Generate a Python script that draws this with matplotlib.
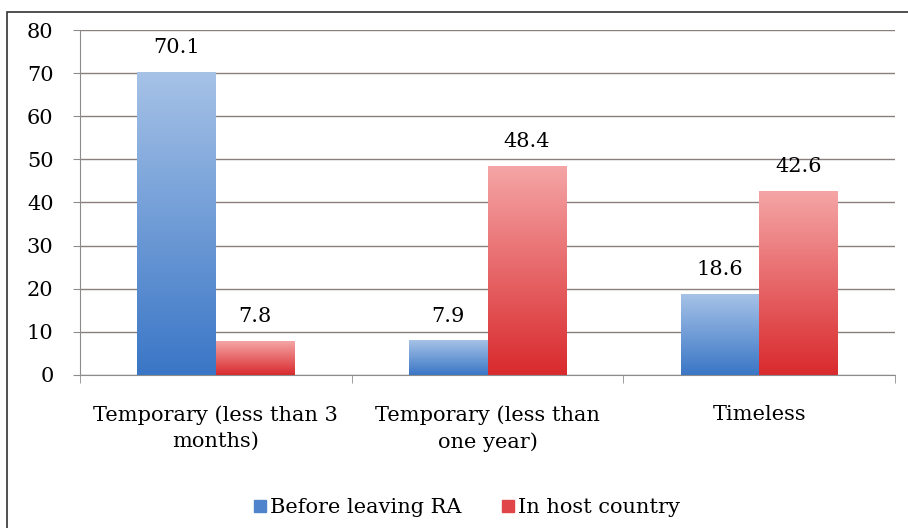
import matplotlib.pyplot as plt
import numpy as np
from matplotlib.colors import LinearSegmentedColormap
from matplotlib.patches import Rectangle
from matplotlib.lines import Line2D

plt.rcParams['font.family'] = ['DejaVu Serif']

# data
categories = ['Temporary (less than 3\nmonths)', 'Temporary (less than\none year)', 'Timeless']
series_names = ['Before leaving RA', 'In host country']
before_ra = [70.1, 7.9, 18.6]
host_country = [7.8, 48.4, 42.6]

fig = plt.figure(figsize=(9.08, 5.28), dpi=100)
ax = fig.add_axes([0.088, 0.290, 0.898, 0.653])

# outer frame of the chart (cropped at right/bottom)
fig.patches.append(Rectangle((7 / 908, -0.1), 1.2, 1.1 - 12 / 528,
                             transform=fig.transFigure, fill=False,
                             edgecolor='#333333', linewidth=1.2))

blue_cmap = LinearSegmentedColormap.from_list('b', ['#3a76c6', '#a6c2e7'])
red_cmap = LinearSegmentedColormap.from_list('r', ['#d92a2d', '#f5a5a6'])
grad = np.linspace(0, 1, 256).reshape(-1, 1)

x = np.arange(len(categories))
width = 0.29

bars1 = ax.bar(x - width / 2, before_ra, width, color='none')
bars2 = ax.bar(x + width / 2, host_country, width, color='none')

# gradient fill like the office chart
for bars, cmap in [(bars1, blue_cmap), (bars2, red_cmap)]:
    for b in bars:
        x0 = b.get_x()
        ax.imshow(grad, cmap=cmap, origin='lower', aspect='auto',
                  extent=(x0, x0 + b.get_width(), 0, b.get_height()), zorder=2)

# labels above bars
for bars, vals in [(bars1, before_ra), (bars2, host_country)]:
    for b, v in zip(bars, vals):
        ax.annotate(f'{v:.1f}', xy=(b.get_x() + b.get_width() / 2, v),
                    xytext=(0, 11), textcoords='offset points',
                    ha='center', va='bottom', fontsize=15)

ax.set_xlim(-0.5, 2.5)
ax.set_ylim(0, 80)
ax.set_yticks(range(0, 81, 10))
ax.tick_params(axis='y', labelsize=15, length=5, color='#8c8c8c', pad=14)
ax.set_xticks(x)
ax.set_xticklabels(categories, fontsize=15, linespacing=1.45)
ax.tick_params(axis='x', which='major', length=0, pad=22)
ax.set_xticks([-0.5, 0.5, 1.5, 2.5], minor=True)
ax.tick_params(axis='x', which='minor', length=6, color='#8c8c8c')

ax.grid(axis='y', color='#8a7e7e', linewidth=1.0, zorder=0)
ax.set_axisbelow(True)
for s in ['top', 'right']:
    ax.spines[s].set_visible(False)
for s in ['left', 'bottom']:
    ax.spines[s].set_color('#8c8c8c')

# legend with square proxies
handles = [Line2D([], [], marker='s', linestyle='none', markersize=8, color='#4f83cc'),
           Line2D([], [], marker='s', linestyle='none', markersize=8, color='#e0454a')]
fig.legend(handles, series_names, loc='center', bbox_to_anchor=(0.513, 0.038),
           ncol=2, frameon=False, fontsize=15, handletextpad=0.1,
           columnspacing=1.8, handlelength=0.8)

fig.savefig('out.png', dpi=100)
